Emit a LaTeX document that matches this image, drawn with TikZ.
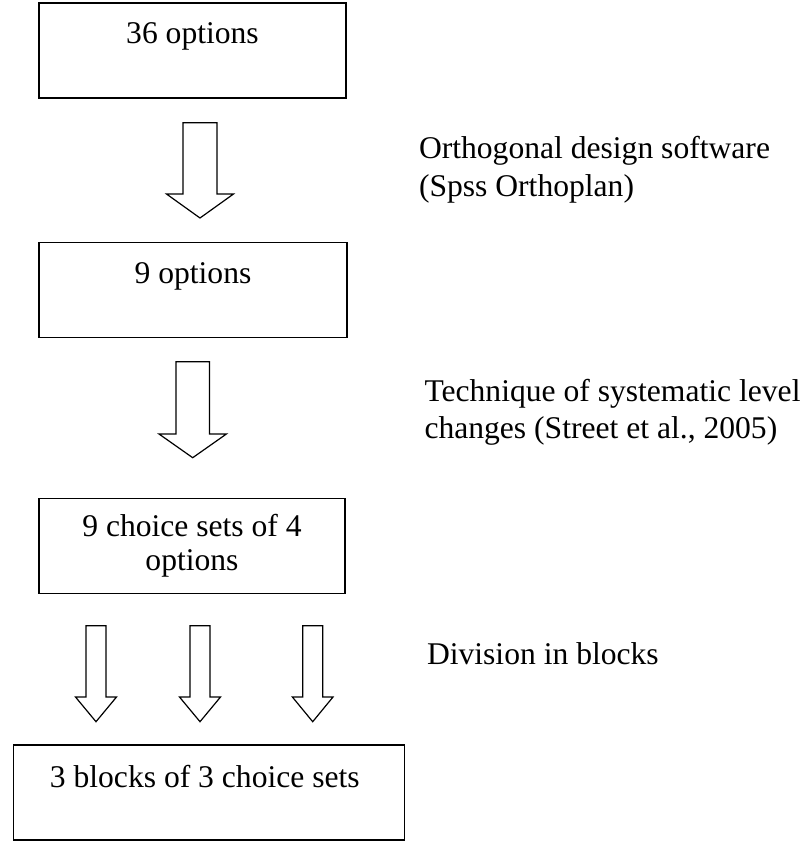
\documentclass[tikz,border=0pt]{standalone}
\usepackage{fontspec}
\setmainfont{Liberation Serif}
\newcommand\blockarrow[6]{% cx, top, headY, tip, shaft half width, head half width
  \draw[fatarr] (#1-#5,#2) -- (#1+#5,#2) -- (#1+#5,#3) -- (#1+#6,#3) -- (#1,#4)
    -- (#1-#6,#3) -- (#1-#5,#3) -- cycle;}
\begin{document}
\begin{tikzpicture}[x=1pt,y=-1pt,
  box/.style={draw, line width=1.4pt, minimum width=#1, minimum height=95pt,
    inner sep=0pt, outer sep=0pt},
  txt/.style={font=\fontsize{31.6pt}{37pt}\selectfont, inner sep=0pt, outer sep=0pt},
  fatarr/.style={draw, line width=1.2pt, line join=miter, fill=white}]
\useasboundingbox (0,0) rectangle (806,841);

% boxes
\node[box=307pt] (b1) at (192.5,50.4) {};
\node[box=308pt] (b2) at (193,289.8) {};
\node[box=306pt] (b3) at (192,545.8) {};
\node[box=391pt] (b4) at (208.8,792.5) {};

% box texts
\node[txt, anchor=base] (t1) at ([yshift=-40.8pt]b1.north) {36 options};
\node[txt, anchor=base] (t2) at ([yshift=-41pt]b2.north) {9 options};
\node[txt, anchor=base] (t3a) at ([yshift=-38.4pt]b3.north) {9 choice sets of 4};
\node[txt, anchor=base] (t3b) at ([yshift=-72.4pt]b3.north) {options};
\node[txt, anchor=base] (t4) at ([xshift=-4pt,yshift=-42pt]b4.north) {3 blocks of 3 choice sets};

% side texts
\node[txt, anchor=base west] (s1a) at (419,158.3) {Orthogonal design software};
\node[txt, anchor=base west] (s1b) at (419,196.7) {(Spss Orthoplan)};
\node[txt, anchor=base west] (s2a) at (424.5,401.7) {Technique of systematic level};
\node[txt, anchor=base west] (s2b) at (424.5,438.3) {changes (Street et al., 2005)};
\node[txt, anchor=base west] (s3) at (427,664) {Division in blocks};

% block arrows
\blockarrow{200}{122.7}{194}{218}{17}{33.5}
\blockarrow{192.7}{361.7}{434}{457.7}{16.8}{33.7}
\blockarrow{96}{625.7}{697}{721.7}{10}{20.5}
\blockarrow{200}{625.7}{697}{721.7}{10}{20.5}
\blockarrow{312.7}{625.7}{697}{721.7}{10}{20.3}
\end{tikzpicture}
\end{document}
